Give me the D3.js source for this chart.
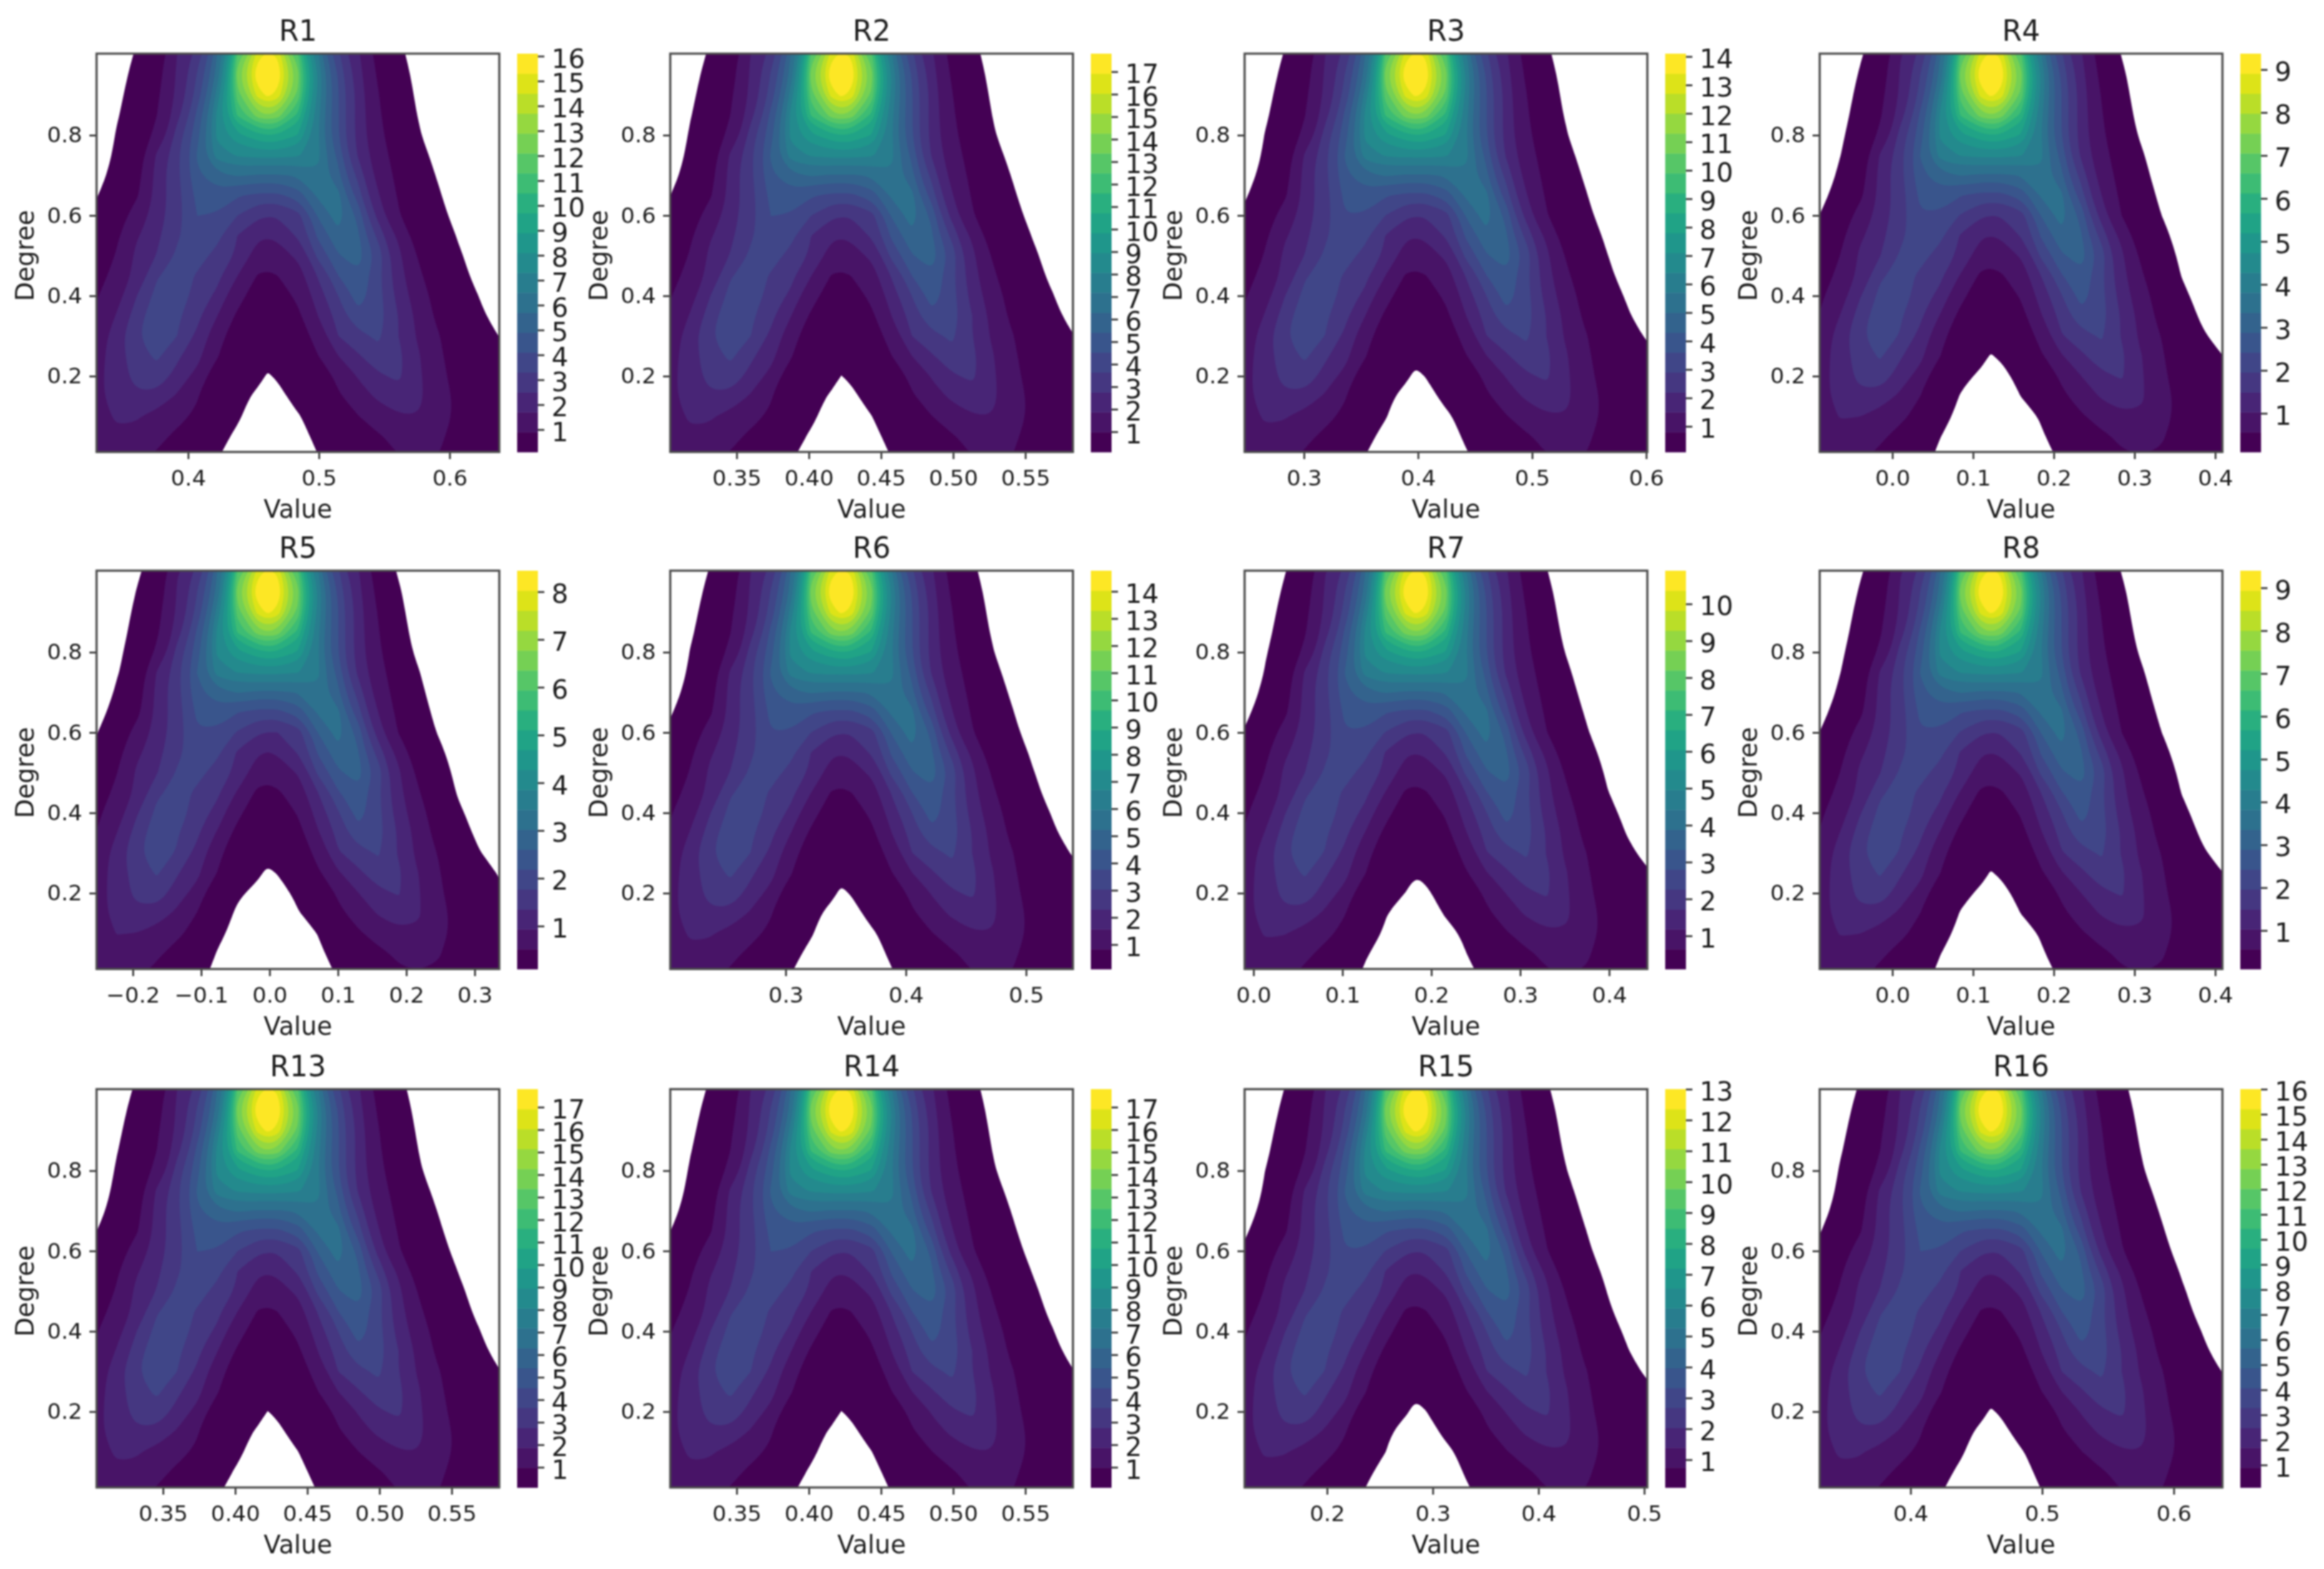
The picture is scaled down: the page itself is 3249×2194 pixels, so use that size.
<!DOCTYPE html>
<html>
<head>
<meta charset="utf-8">
<script src="https://cdn.jsdelivr.net/npm/d3@7"></script>
<style>
  html, body { margin: 0; background: #fff; }
  text { font-family: "DejaVu Sans", sans-serif; fill: #1c1c1c; }
  svg { filter: blur(0.8px); }
</style>
</head>
<body>
<div id="chart"></div>
<script>
// panels, row by row
const panelNames = ['R1', 'R2', 'R3', 'R4', 'R5', 'R6', 'R7', 'R8', 'R13', 'R14', 'R15', 'R16'];
const valueMin = [0.33, 0.304, 0.248, -0.09, -0.253, 0.204, -0.01, -0.09, 0.304, 0.304, 0.122, 0.331];
const valueMax = [0.638, 0.583, 0.601, 0.409, 0.336, 0.539, 0.443, 0.409, 0.583, 0.583, 0.503, 0.637];
const peaks = [16.1, 17.8, 14.1, 9.37, 8.44, 14.76, 10.9, 9.4, 17.8, 17.8, 13.0, 16.0];
const valueTicks = [
  [0.4, 0.5, 0.6],
  [0.35, 0.4, 0.45, 0.5, 0.55],
  [0.3, 0.4, 0.5, 0.6],
  [0, 0.1, 0.2, 0.3, 0.4],
  [-0.2, -0.1, 0, 0.1, 0.2, 0.3],
  [0.3, 0.4, 0.5],
  [0, 0.1, 0.2, 0.3, 0.4],
  [0, 0.1, 0.2, 0.3, 0.4],
  [0.35, 0.4, 0.45, 0.5, 0.55],
  [0.35, 0.4, 0.45, 0.5, 0.55],
  [0.2, 0.3, 0.4, 0.5],
  [0.4, 0.5, 0.6],
];
const degreeTicks = [0.2, 0.4, 0.6, 0.8];
const lowestLevel = 0.1;
const bandCount = 20;

// density, percent of each panel's peak.
// columns: share of the value axis, rows: degree
const gridShare = [-0.05, 0, 0.05, 0.1, 0.15, 0.2, 0.25, 0.3, 0.35, 0.4, 0.425, 0.45, 0.5, 0.55, 0.6, 0.65, 0.7, 0.75, 0.8, 0.85, 0.9, 0.95, 1, 1.05];
const gridDegree = [1.05, 1, 0.95, 0.9, 0.85, 0.8, 0.75, 0.7, 0.65, 0.6, 0.55, 0.5, 0.45, 0.4, 0.35, 0.3, 0.25, 0.2, 0.15, 0.1, 0.05, 0, -0.05];
const density = [
  [.005, .005, .08, .5, 2.8, 7, 14, 28, 55, 74, 78, 75, 57, 32, 17, 9, 3.4, .7, .2, .01, .005, .005, .005, .005],
  [.005, .01, .15, .85, 3.8, 10.6, 18, 36, 71, 93, 96.5, 94, 71, 41, 22, 11.5, 4.4, 1, .25, .02, .01, .005, .005, .005],
  [.005, .02, .25, 1.3, 4.3, 11.5, 21, 38, 78, 99, 100, 99, 77, 45, 25, 13, 5, 1.5, .33, .03, .01, .005, .005, .005],
  [.005, .03, .35, 1.9, 5, 12, 23, 43, 73, 92, 96.5, 93, 74, 44, 26, 14, 5.8, 2, .42, .05, .01, .005, .005, .005],
  [.01, .05, .5, 2.5, 5.6, 14, 27, 47, 66, 78, 80, 78, 64, 42, 26, 14, 6.4, 2.6, .55, .08, .02, .005, .005, .005],
  [.02, .08, .75, 3.1, 7, 18, 29, 47, 54, 59, 60, 60, 55, 41, 26, 14, 7, 3.2, .8, .12, .04, .02, .005, .005],
  [.03, .15, 1, 3.8, 11.5, 19.5, 31, 43, 46, 47, 47, 47, 46, 42, 29, 15, 8, 3.9, 1.3, .3, .07, .03, .01, .005],
  [.06, .25, 1.6, 4.4, 13, 19.5, 29.5, 34, 36, 35, 35, 35, 36, 39.5, 32, 19, 9, 4.6, 1.8, .5, .12, .05, .02, .005],
  [.12, .55, 2.6, 5.2, 13, 19, 27, 28.5, 26, 24.5, 24.5, 24.5, 28, 36.5, 37, 23, 11, 5.2, 2.3, .75, .2, .08, .03, .01],
  [.3, 1.1, 3.8, 7.8, 13.5, 19, 25.5, 25, 20.5, 16.5, 16, 16, 19, 31, 38, 29, 14, 6, 2.9, 1.05, .33, .12, .04, .02],
  [.55, 1.8, 5, 10, 14.6, 19.8, 24, 22, 15.5, 11.5, 11, 11.5, 16.5, 26.5, 34.5, 31, 19, 9.5, 3.8, 1.7, .52, .2, .06, .03],
  [.9, 3, 6, 12, 15.8, 21.5, 22.5, 19, 14.8, 8.6, 7.9, 8.8, 11.5, 22, 30, 33, 23.5, 12, 5.2, 2.5, .75, .3, .09, .04],
  [1.3, 4.1, 7.3, 12.5, 20, 23, 20, 17, 10.6, 5.4, 5, 5.6, 8.7, 16, 25.4, 29.5, 22, 13, 6.5, 3.1, 1, .4, .14, .06],
  [1.9, 5.3, 9, 15.5, 22.5, 24, 18.5, 14.5, 7.3, 3.8, 3.5, 3.9, 6.5, 13.5, 20.5, 28, 22.5, 14, 8, 4, 1.5, .6, .22, .09],
  [2.5, 6.2, 11, 18.5, 24, 21.5, 17, 10.6, 5, 2.7, 2.5, 2.9, 4.9, 10.6, 18, 24.5, 23, 15.5, 9.3, 4.6, 2.2, .85, .35, .15],
  [3.2, 7.8, 13.5, 20, 24, 20.5, 14.5, 8, 3.2, 1.9, 1.7, 2, 3.4, 8, 15.5, 19, 21.5, 15.5, 9.8, 5.8, 3, 1.3, .6, .28],
  [3.6, 8.8, 13.5, 18.5, 21.5, 16.5, 12.5, 6, 2.1, 1.4, 1, 1.25, 2.3, 5.5, 10.5, 15, 19, 17, 11, 6.5, 3.5, 1.9, 1.1, .5],
  [3.9, 9.4, 13, 17.5, 18.5, 14, 9, 3.4, 1.4, .9, .55, .75, 1.55, 3.2, 7, 11, 14.8, 16.5, 11.5, 7, 4, 2.2, 1.45, .7],
  [3.9, 9.5, 12.5, 14.8, 14.3, 10, 6, 2.2, 1, .47, .33, .4, 1.1, 2, 5, 8.7, 11.5, 13.5, 11.5, 8, 4.5, 2.4, 1.65, .8],
  [3.6, 8.8, 11.2, 11, 9, 7, 4.8, 1.6, .78, .27, .15, .18, .55, 1.25, 3, 5.5, 8.3, 10.2, 10.5, 7.8, 4.6, 2.5, 1.75, .85],
  [3.2, 8, 9.8, 9.4, 6.9, 4.8, 3.2, 1.1, .45, .14, .08, .09, .36, .9, 2, 3.6, 5.2, 7, 7.3, 6.5, 4, 2.4, 1.65, .8],
  [2.8, 7, 8, 7, 5, 3.4, 2.2, .7, .25, .08, .05, .06, .2, .6, 1.4, 2.4, 3.7, 5.5, 6, 5.5, 3.4, 2.1, 1.45, .7],
  [2.2, 5.5, 6.2, 5.2, 3.6, 2.4, 1.5, .4, .15, .05, .03, .04, .1, .35, .8, 1.6, 2.6, 3.8, 4.2, 3.6, 2.5, 1.6, 1, .5],
];

// layout
const plotW = 563, plotH = 557;
const colX = [135, 937, 1740, 2544];
const rowY = [75, 798, 1523];
const barGap = 25, barW = 29;
const tickFont = 31, labelFont = 35, titleFont = 40, barFont = 37;

const svg = d3.select('#chart').append('svg')
  .attr('width', 3249)
  .attr('height', 2194)
  .style('display', 'block');

// contour on the log, the tails fall off too fast for a straight line across a cell
const logDensity = density.flat().map(Math.log);
const nx = gridShare.length, ny = gridDegree.length;
const ringLine = d3.line().curve(d3.curveBasisClosed);

panelNames.forEach((name, i) => {
  const g = svg.append('g')
    .attr('transform', `translate(${colX[i % 4]},${rowY[Math.floor(i / 4)]})`);

  const x = d3.scaleLinear().domain([valueMin[i], valueMax[i]]).range([0, plotW]);
  const y = d3.scaleLinear().domain([0.011, 1.003]).range([plotH, 0]);
  const share = (s) => valueMin[i] + s * (valueMax[i] - valueMin[i]);

  // d3.contours puts grid values at pixel centres
  const gridX = d3.scaleLinear()
    .domain(gridShare.map((s, k) => k + 0.5))
    .range(gridShare.map((s) => x(share(s))));
  const gridY = d3.scaleLinear()
    .domain(gridDegree.map((s, k) => k + 0.5))
    .range(gridDegree.map((s) => y(s)));

  // linear levels from lowestLevel to the peak
  const levels = d3.range(bandCount + 1)
    .map((k) => lowestLevel + (k * (peaks[i] - lowestLevel)) / bandCount);
  const color = (k) => d3.interpolateViridis(k / (bandCount - 1));

  const thresholds = levels.slice(0, bandCount).map((l) => Math.log((100 * l) / peaks[i]));
  const contours = d3.contours().size([nx, ny]).thresholds(thresholds)(logDensity);

  g.append('clipPath')
    .attr('id', `clip${i}`)
    .append('rect')
    .attr('width', plotW)
    .attr('height', plotH);

  const bands = g.append('g').attr('clip-path', `url(#clip${i})`);
  contours.forEach((c, k) => {
    const d = c.coordinates
      .flat()
      .map((ring) => ringLine(ring.slice(0, -1).map((p) => [gridX(p[0]), gridY(p[1])])))
      .join('');
    bands.append('path')
      .attr('d', d)
      .attr('fill', color(k))
      .attr('fill-rule', 'evenodd');
  });

  // axes
  const twoDecimals = i === 1 || i === 8 || i === 9;
  const xAxis = g.append('g')
    .attr('transform', `translate(0,${plotH})`)
    .call(d3.axisBottom(x).tickValues(valueTicks[i]).tickFormat(d3.format(twoDecimals ? '.2f' : '.1f')).tickSize(10).tickPadding(15));
  const yAxis = g.append('g')
    .call(d3.axisLeft(y).tickValues(degreeTicks).tickFormat(d3.format('.1f')).tickSize(10).tickPadding(10));
  [xAxis, yAxis].forEach((a) => {
    a.selectAll('text').style('font-size', `${tickFont}px`);
    a.selectAll('line').attr('stroke', '#333').attr('stroke-width', 2.5);
    a.select('.domain').remove();
  });

  g.append('rect')
    .attr('width', plotW)
    .attr('height', plotH)
    .attr('fill', 'none')
    .attr('stroke', '#4a4a4a')
    .attr('stroke-width', 3);

  g.append('text')
    .attr('x', plotW / 2)
    .attr('y', -18)
    .attr('text-anchor', 'middle')
    .style('font-size', `${titleFont}px`)
    .text(name);

  g.append('text')
    .attr('x', plotW / 2)
    .attr('y', plotH + 92)
    .attr('text-anchor', 'middle')
    .style('font-size', `${labelFont}px`)
    .text('Value');

  g.append('text')
    .attr('transform', 'rotate(-90)')
    .attr('x', -plotH / 2 - 4)
    .attr('y', -88)
    .attr('text-anchor', 'middle')
    .style('font-size', `${labelFont}px`)
    .text('Degree');

  // colorbar
  const barScale = d3.scaleLinear().domain([levels[0], levels[bandCount]]).range([plotH, 0]);
  const bar = g.append('g').attr('transform', `translate(${plotW + barGap},0)`);
  bar.selectAll('rect')
    .data(d3.range(bandCount))
    .enter()
    .append('rect')
    .attr('width', barW)
    .attr('y', (k) => barScale(levels[k + 1]))
    .attr('height', (k) => barScale(levels[k]) - barScale(levels[k + 1]) + 0.5)
    .attr('fill', (k) => color(k));

  const barAxis = bar.append('g')
    .attr('transform', `translate(${barW},0)`)
    .call(d3.axisRight(barScale).tickValues(d3.range(1, Math.floor(peaks[i]) + 1)).tickFormat(d3.format('d')).tickSize(9).tickPadding(10));
  barAxis.selectAll('text').style('font-size', `${barFont}px`).attr('dy', '0.42em');
  barAxis.selectAll('line').attr('stroke', '#333').attr('stroke-width', 2.5);
  barAxis.select('.domain').remove();
});
</script>
</body>
</html>
